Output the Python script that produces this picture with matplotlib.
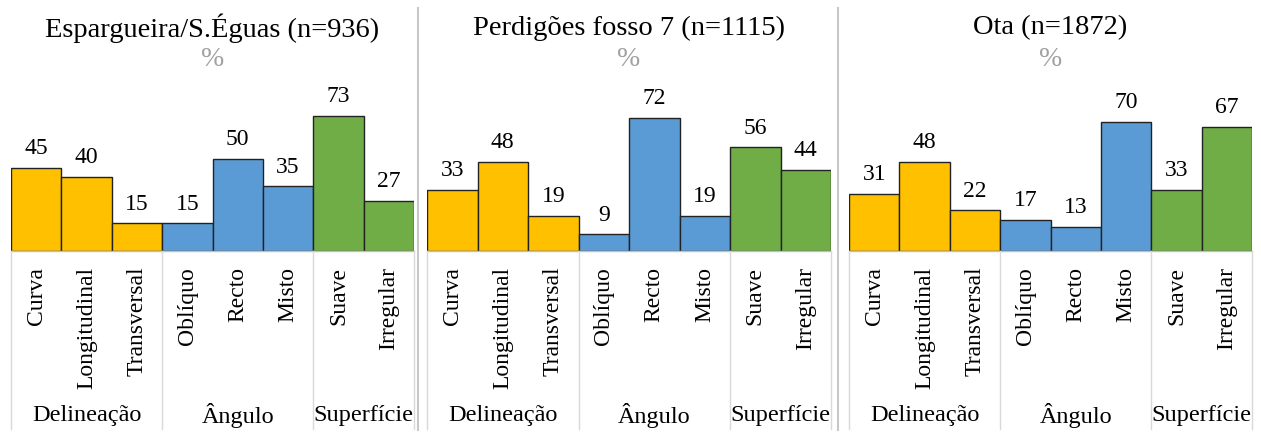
import matplotlib.pyplot as plt
from matplotlib.lines import Line2D

plt.rcParams['font.family'] = ['Liberation Serif', 'DejaVu Serif']

categories = ['Curva', 'Longitudinal', 'Transversal', 'Oblíquo', 'Recto', 'Misto', 'Suave', 'Irregular']
groups = ['Delineação', 'Ângulo', 'Superfície']
group_sizes = [3, 3, 2]
titles = ['Espargueira/S.Éguas (n=936)', 'Perdigões fosso 7 (n=1115)', 'Ota (n=1872)']

esparg = [45, 40, 15, 15, 50, 35, 73, 27]
perdig = [33, 48, 19, 9, 72, 19, 56, 44]
ota = [31, 48, 22, 17, 13, 70, 33, 67]
values = [esparg, perdig, ota]

group_colors = ['#FFC000', '#5B9BD5', '#70AD47']
bar_colors = []
for c, n in zip(group_colors, group_sizes):
    bar_colors += [c] * n

W, H = 1261, 435
fig = plt.figure(figsize=(W / 100, H / 100), dpi=100)

# panel bar areas in pixels (left, right)
panels_px = [(11, 414), (427, 831), (849, 1252)]
base_y = 252  # baseline from top
scale = 1.85  # px per unit
ymax = 100

for k, (x0, x1) in enumerate(panels_px):
    ax = fig.add_axes([x0 / W, (H - base_y) / H, (x1 - x0) / W, ymax * scale / H])
    ax.set_xlim(-0.5, 7.5)
    ax.set_ylim(0, ymax)
    ax.axis('off')
    xs = range(len(categories))
    ax.bar(xs, values[k], width=1.0, color=bar_colors, edgecolor='#222222', linewidth=1.0)
    for i, v in enumerate(values[k]):
        ax.annotate(str(v), (i, v), xytext=(0, 7), textcoords='offset points',
                    ha='center', va='bottom', fontsize=17)
        ax.text(i, -8, categories[i], ha='center', va='top', rotation=90,
                fontsize=17, clip_on=False)
    # baseline
    ax.plot([-0.5, 7.5], [0, 0], color='#bfbfbf', lw=1, clip_on=False)
    # group separators and labels
    start = -0.5
    ax.plot([start, start], [0, -96], color='#d9d9d9', lw=1, clip_on=False)
    for g, n in zip(groups, group_sizes):
        end = start + n
        ax.plot([end, end], [0, -96], color='#d9d9d9', lw=1, clip_on=False)
        ax.text((start + end) / 2, -88.5, g, ha='center', va='center', fontsize=17.5, clip_on=False)
        start = end
    # title and unit
    fig.text((x0 + x1) / 2 / W, 1 - 28 / H, titles[k], ha='center', va='center', fontsize=20.5)
    fig.text((x0 + x1) / 2 / W, 1 - 60 / H, '%', ha='center', va='center', fontsize=20, color='#a0a0a0')

# panel dividers
for xp in [418, 838]:
    fig.add_artist(Line2D([xp / W, xp / W], [0.01, 0.98], color='#c8c8c8', lw=1.5))

fig.savefig('out.png', dpi=100)
